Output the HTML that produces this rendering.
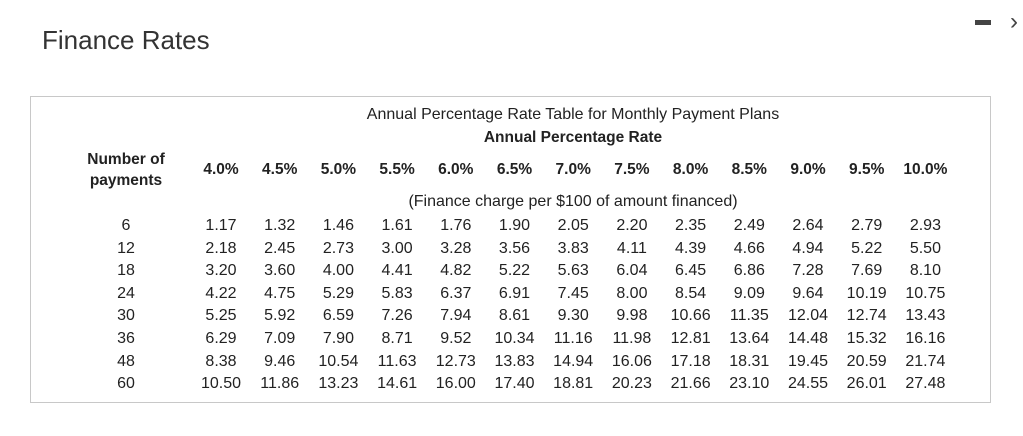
<!DOCTYPE html>
<html><head><meta charset="utf-8"><style>
body{margin:0;width:1023px;height:436px;background:#fff;font-family:"Liberation Sans",sans-serif;color:#222;position:relative;overflow:hidden}
.a{position:absolute;white-space:nowrap;transform:translate(-50%,-50%);font-size:16px}
.b{font-weight:bold;font-size:15.5px}
</style></head><body>
<div style="position:absolute;left:42px;top:25px;font-size:26px;color:#333">Finance Rates</div>
<div style="position:absolute;left:975px;top:20px;width:16px;height:5px;background:#444"></div>
<div style="position:absolute;left:1010px;top:8px;font-size:24px;color:#444">&#8250;</div>
<div style="position:absolute;left:30px;top:96px;width:959px;height:305px;border:1px solid #c8c8c8"></div>
<div id="t"></div>
<script>
const rates=["4.0%","4.5%","5.0%","5.5%","6.0%","6.5%","7.0%","7.5%","8.0%","8.5%","9.0%","9.5%","10.0%"];
const payments=["6","12","18","24","30","36","48","60"];
const r6=["1.17","1.32","1.46","1.61","1.76","1.90","2.05","2.20","2.35","2.49","2.64","2.79","2.93"];
const r12=["2.18","2.45","2.73","3.00","3.28","3.56","3.83","4.11","4.39","4.66","4.94","5.22","5.50"];
const r18=["3.20","3.60","4.00","4.41","4.82","5.22","5.63","6.04","6.45","6.86","7.28","7.69","8.10"];
const r24=["4.22","4.75","5.29","5.83","6.37","6.91","7.45","8.00","8.54","9.09","9.64","10.19","10.75"];
const r30=["5.25","5.92","6.59","7.26","7.94","8.61","9.30","9.98","10.66","11.35","12.04","12.74","13.43"];
const r36=["6.29","7.09","7.90","8.71","9.52","10.34","11.16","11.98","12.81","13.64","14.48","15.32","16.16"];
const r48=["8.38","9.46","10.54","11.63","12.73","13.83","14.94","16.06","17.18","18.31","19.45","20.59","21.74"];
const r60=["10.50","11.86","13.23","14.61","16.00","17.40","18.81","20.23","21.66","23.10","24.55","26.01","27.48"];
const rows=[r6,r12,r18,r24,r30,r36,r48,r60];
const t=document.getElementById('t');
function add(txt,x,y,cls,name){const d=document.createElement('div');d.className='a '+(cls||'');d.style.left=x+'px';d.style.top=y+'px';d.textContent=txt;


t.appendChild(d);return d;}
const cx=i=>221+i*58.7, ry=j=>226+j*22.6;
add("Annual Percentage Rate Table for Monthly Payment Plans",573,115,'','table-caption');
add("Annual Percentage Rate",573,138,'b','apr-header');
const h=add("Number of\npayments",126,170,'b','payments-header');h.style.whiteSpace='pre';h.style.textAlign='center';h.style.lineHeight='21px';
rates.forEach((r,i)=>add(r,cx(i),170,'b','rate-header'));
add("(Finance charge per $100 of amount financed)",573,202,'','finance-note');
payments.forEach((p,j)=>{add(p,126,ry(j),'','payments-label');rows[j].forEach((v,i)=>add(v,cx(i),ry(j),'','finance-charge-cell'));});
</script>
</body></html>
